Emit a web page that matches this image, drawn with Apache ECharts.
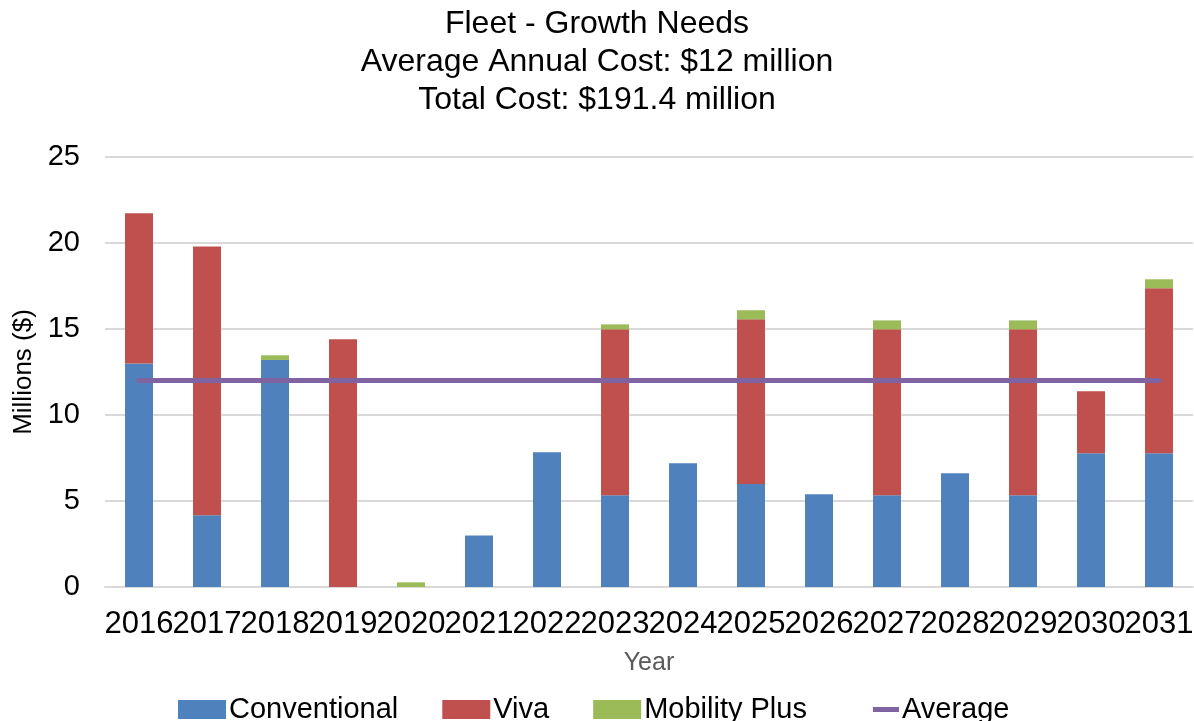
<!DOCTYPE html>
<html>
<head>
<meta charset="utf-8">
<script src="https://cdn.jsdelivr.net/npm/echarts@6/dist/echarts.min.js"></script>
<style>
  html, body { margin: 0; padding: 0; background: #fff; }
  #chart { width: 1194px; height: 721px; }
</style>
</head>
<body>
<div id="chart"></div>
<script>
// data
const years = ['2016', '2017', '2018', '2019', '2020', '2021', '2022', '2023',
  '2024', '2025', '2026', '2027', '2028', '2029', '2030', '2031']
const conventional = [13.0, 4.17, 13.2, 0, 0, 3.0, 7.83, 5.33, 7.19, 5.99, 5.39, 5.33, 6.61, 5.33, 7.77, 7.77]
const viva = [8.73, 15.63, 0, 14.4, 0, 0, 0, 9.65, 0, 9.57, 0, 9.65, 0, 9.65, 3.61, 9.6]
const mobilityPlus = [0, 0, 0.27, 0, 0.27, 0, 0, 0.29, 0, 0.53, 0, 0.52, 0, 0.52, 0, 0.52]
const average = [12, 12, 12, 12, 12, 12, 12, 12, 12, 12, 12, 12, 12, 12, 12, 12]
const yTicks = { min: 0, max: 25, interval: 5 }

const font = 'Liberation Sans, Arial, sans-serif'
const chart = echarts.init(document.getElementById('chart'))

chart.setOption({
  backgroundColor: '#FFFFFF',
  animation: false,
  title: {
    text: 'Fleet - Growth Needs\nAverage Annual Cost: $12 million\nTotal Cost: $191.4 million',
    left: 'center',
    top: 5,
    padding: 0,
    textStyle: {
      fontFamily: font,
      fontSize: 32,
      fontWeight: 'normal',
      color: '#000',
      lineHeight: 38
    }
  },
  legend: {
    top: 695,
    left: 178,
    itemWidth: 48,
    itemHeight: 19,
    itemGap: 44,
    padding: 0,
    textStyle: { fontFamily: font, fontSize: 29, color: '#000', padding: [0, 0, 0, -2] },
    data: [
      { name: 'Conventional', icon: 'rect' },
      { name: 'Viva', icon: 'rect' },
      { name: 'Mobility Plus', icon: 'rect' },
      // short thick line, right side of the icon box
      { name: 'Average', icon: 'path://M0,0 M48,19 M22,7 H48 V12 H22 Z' }
    ]
  },
  grid: {
    left: 105,
    right: 1,
    top: 157,
    bottom: 134,
    outerBoundsMode: 'none'
  },
  xAxis: {
    type: 'category',
    data: years,
    name: 'Year',
    nameLocation: 'middle',
    nameGap: 64,
    nameTextStyle: { fontFamily: font, fontSize: 25, color: '#595959' },
    axisLine: { lineStyle: { color: '#D9D9D9', width: 2 } },
    axisTick: { show: false },
    axisLabel: {
      interval: 0,
      margin: 22,
      fontFamily: font,
      fontSize: 31,
      color: '#000'
    }
  },
  yAxis: {
    type: 'value',
    min: yTicks.min,
    max: yTicks.max,
    interval: yTicks.interval,
    name: 'Millions ($)',
    nameLocation: 'middle',
    nameGap: 62,
    nameTextStyle: { fontFamily: font, fontSize: 26, color: '#000' },
    axisLine: { show: false },
    axisTick: { show: false },
    splitLine: { lineStyle: { color: '#D9D9D9', width: 2 } },
    axisLabel: {
      margin: 25,
      fontFamily: font,
      fontSize: 29,
      color: '#000'
    }
  },
  series: [
    {
      name: 'Conventional',
      type: 'bar',
      stack: 'cost',
      barWidth: 28,
      itemStyle: { color: '#4F81BD' },
      data: conventional
    },
    {
      name: 'Viva',
      type: 'bar',
      stack: 'cost',
      barWidth: 28,
      itemStyle: { color: '#C0504D' },
      data: viva
    },
    {
      name: 'Mobility Plus',
      type: 'bar',
      stack: 'cost',
      barWidth: 28,
      itemStyle: { color: '#9BBB59' },
      data: mobilityPlus
    },
    {
      name: 'Average',
      type: 'line',
      symbol: 'none',
      itemStyle: { color: '#8064A2' },
      lineStyle: { color: '#8064A2', width: 5, cap: 'round' },
      data: average,
      z: 5
    }
  ]
})
</script>
</body>
</html>
